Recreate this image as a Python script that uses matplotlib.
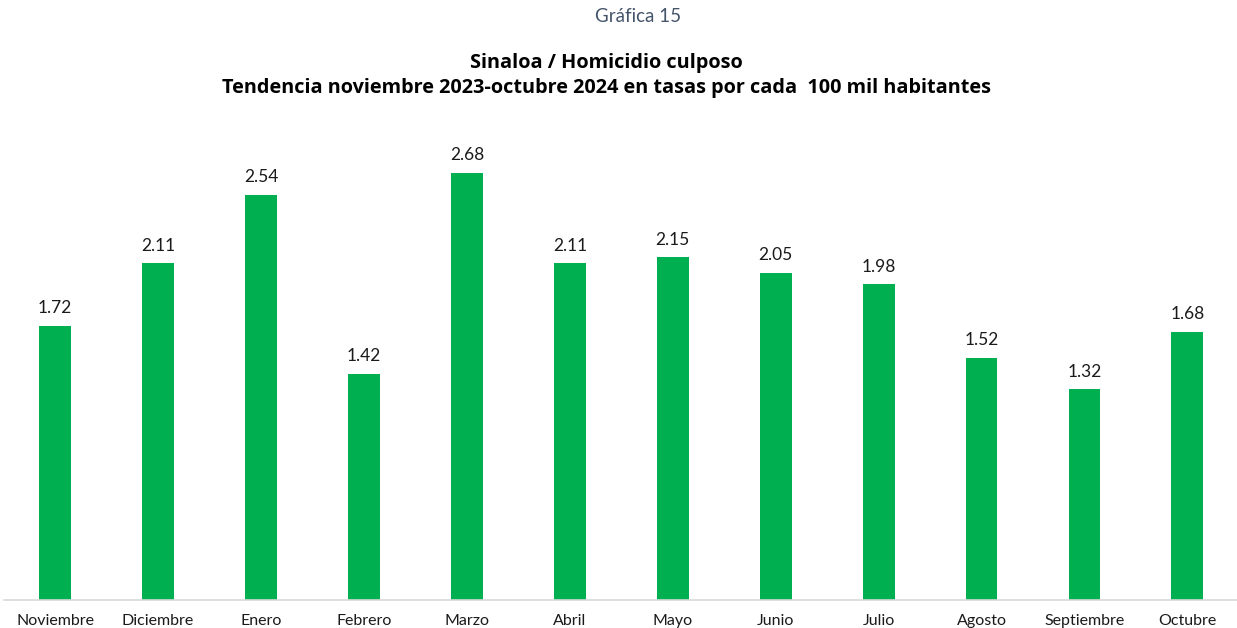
import numpy as np
import matplotlib
matplotlib.use('Agg')
import matplotlib.pyplot as plt

# data
meses = ["Noviembre", "Diciembre", "Enero", "Febrero", "Marzo", "Abril",
         "Mayo", "Junio", "Julio", "Agosto", "Septiembre", "Octubre"]
tasas = [1.72, 2.11, 2.54, 1.42, 2.68, 2.11, 2.15, 2.05, 1.98, 1.52, 1.32, 1.68]

plt.rcParams['font.family'] = ['Lato', 'DejaVu Sans']

fig = plt.figure(figsize=(12.37, 6.28), dpi=100)
ax = fig.add_axes([0.003, 28/628, 0.9985, 470/628])

x = np.arange(len(meses))
ax.bar(x, tasas, width=0.31, color='#00B050')
for xi, v in zip(x, tasas):
    ax.text(xi, v + 0.06, "%.2f" % v, ha='center', va='bottom', fontsize=12.5, color='#1a1a1a')

ax.set_xlim(-0.5, len(meses) - 0.5)
ax.set_ylim(0, 2.947)
ax.set_xticks(x)
ax.set_xticklabels(meses, fontsize=11.5, color='#1a1a1a')
ax.tick_params(axis='x', length=0, pad=10)
ax.set_yticks([])
for s in ['top', 'right', 'left']:
    ax.spines[s].set_visible(False)
ax.spines['bottom'].set_color('#D9D9D9')
ax.spines['bottom'].set_linewidth(1.2)

fig.text(638/1237, 1 - 17/628, "Gráfica 15", ha='center', va='center', fontsize=13.5, color='#44546A')
fig.text(606/1237, 1 - 63/628, "Sinaloa / Homicidio culposo", ha='center', va='center',
         fontsize=14.3, fontweight='bold', color='#000000', family=['Open Sans', 'DejaVu Sans'])
fig.text(606/1237, 1 - 88/628, "Tendencia noviembre 2023-octubre 2024 en tasas por cada  100 mil habitantes",
         ha='center', va='center', fontsize=14.3, fontweight='bold', color='#000000',
         family=['Open Sans', 'DejaVu Sans'])

fig.savefig('out.png', dpi=100)
